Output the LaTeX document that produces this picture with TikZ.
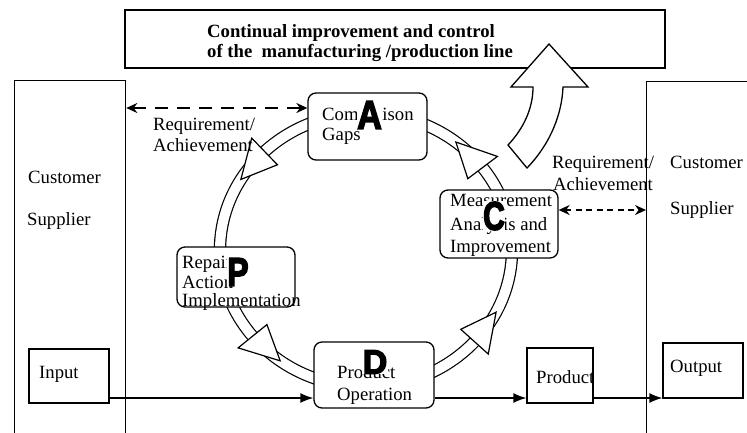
\documentclass[tikz,border=0pt]{standalone}
\usepackage{fontspec}
\usepackage{graphicx}
\setmainfont{Liberation Serif}
\newfontfamily\letterfont{Liberation Sans}[FakeBold=4]
\usetikzlibrary{arrows.meta,calc}
\begin{document}
\begin{tikzpicture}[x=1pt,y=-1pt,
  lw/.style={line width=1.3pt},
  txt/.style={inner sep=0pt, anchor=base west, font=\fontsize{18.7}{20}\selectfont},
  ttl/.style={txt, font=\fontsize{18.7}{20}\selectfont\bfseries},
  pbox/.style={draw, line width=1.3pt, fill=white, rounded corners=8pt, inner sep=0pt},
  sbox/.style={draw, line width=1.3pt, fill=white, inner sep=0pt},
  bigl/.style={inner sep=0.5pt, fill=white, font=\letterfont\bfseries\fontsize{40}{40}\selectfont},
  flow/.style={line width=1.3pt, -{Latex[length=13pt,width=10pt]}},
  dasharr/.style={line width=1.9pt, {Stealth[length=11pt,width=10pt]}-{Stealth[length=11pt,width=10pt]}},
  ring/.style={line width=1.2pt, double=white, double distance=10pt},
  tri/.style={draw, line width=1.2pt, fill=white, line join=miter}
]
\useasboundingbox (0,0) rectangle (747,432);
\fill[white] (0,0) rectangle (747,432);

% top box
\node[sbox, minimum width=540pt, minimum height=58pt] (top) at (395,39) {};
\node[ttl] (t1) at (207,37) {Continual improvement and control};
\node[ttl] (t2) at (207,57) {of the\ \ manufacturing /production line};

% side boxes
\node[sbox, anchor=north west, minimum width=111pt, minimum height=380pt] (L) at (14,80) {};
\node[sbox, anchor=north west, minimum width=200pt, minimum height=380pt] (R) at (646,81) {};

% ring
\coordinate (O) at (366,250);
\draw[ring] (O) ellipse [x radius=146pt, y radius=137pt];
\foreach \b in {134,219,318,37} {
  \draw[tri] ($(O)+(-\b:164.5 and 155.5)$) -- ($(O)+(-\b:127.5 and 118.5)$)
    -- ($(O)+({-\b-15}:146 and 137)$) -- cycle;
}

% process boxes
\node[pbox, minimum width=119pt, minimum height=67pt] (A) at (367.5,126.5) {};
\node[pbox, minimum width=118pt, minimum height=68pt] (C) at (499,224) {};
\node[pbox, minimum width=118pt, minimum height=60pt] (P) at (236,277) {};
\node[pbox, minimum width=120pt, minimum height=66pt] (D) at (374,375) {};

\node[txt] (a1) at (322,120) {Comparison};
\node[txt] (a2) at (322,140) {Gaps};
\node[txt] (c1) at (450,206) {Measurement};
\node[txt] (c2) at (450,230) {Analysis and};
\node[txt] (c3) at (450,252) {Improvement};
\node[txt] (p1) at (182,268) {Repair};
\node[txt] (p2) at (182,288) {Action};
\node[txt] (p3) at (182,306) {Implementation};
\node[txt] (d1) at (337,378) {Product};
\node[txt] (d2) at (337,400) {Operation};

\node[bigl] (LA) at (369.5,115) {\scalebox{0.85}[1]{A}};
\node[bigl] (LC) at (494,216) {\scalebox{0.75}[1]{C}};
\node[bigl] (LP) at (238,272) {\scalebox{0.8}[1]{P}};
\node[bigl] (LD) at (375,362) {\scalebox{0.85}[0.85]{D}};

% big curved arrow
\draw[lw, fill=white, line join=miter] (549,44) -- (588,87) -- (563,87)
  .. controls (562,112) and (552,142) .. (527,168) -- (508,145)
  .. controls (524,128) and (533,108) .. (533,87) -- (511,87) -- cycle;

% side texts
\node[txt] (lc) at (28,183) {Customer};
\node[txt] (ls) at (27,225) {Supplier};
\node[txt] (rc) at (670,168) {Customer};
\node[txt] (rs) at (670,214) {Supplier};
\node[txt] (lr1) at (153,130) {Requirement/};
\node[txt] (lr2) at (153,151) {Achievement};
\node[txt] (rr1) at (552,168) {Requirement/};
\node[txt] (rr2) at (553,190) {Achievement};

% dashed arrows
\path ([yshift=18.5pt]A.west) coordinate (la);
\draw[dasharr, dash pattern=on 13pt off 9pt] (la -| L.east) -- (la);
\path ([yshift=14pt]C.east) coordinate (ra);
\draw[dasharr, dash pattern=on 6pt off 4.5pt] (ra) -- (ra -| R.west);

% input / product / output
\node[sbox, minimum width=80pt, minimum height=54pt] (In) at (69,376) {};
\node[txt] (int) at (39,378) {Input};
\node[sbox, minimum width=66pt, minimum height=55pt] (Pr) at (560,375.5) {};
\node[txt] (prt) at (536,383) {Product};
\node[sbox, minimum width=80pt, minimum height=55pt] (Out) at (703,370.5) {};
\node[txt] (outt) at (670,372) {Output};

\path ([yshift=-22pt]In.east) coordinate (f1);
\draw[flow] (f1) -- (f1 -| D.west);
\draw[flow] (f1 -| D.east) -- (f1 -| Pr.west);
\draw[flow] (f1 -| Pr.east) -- (f1 -| Out.west);
\end{tikzpicture}
\end{document}
